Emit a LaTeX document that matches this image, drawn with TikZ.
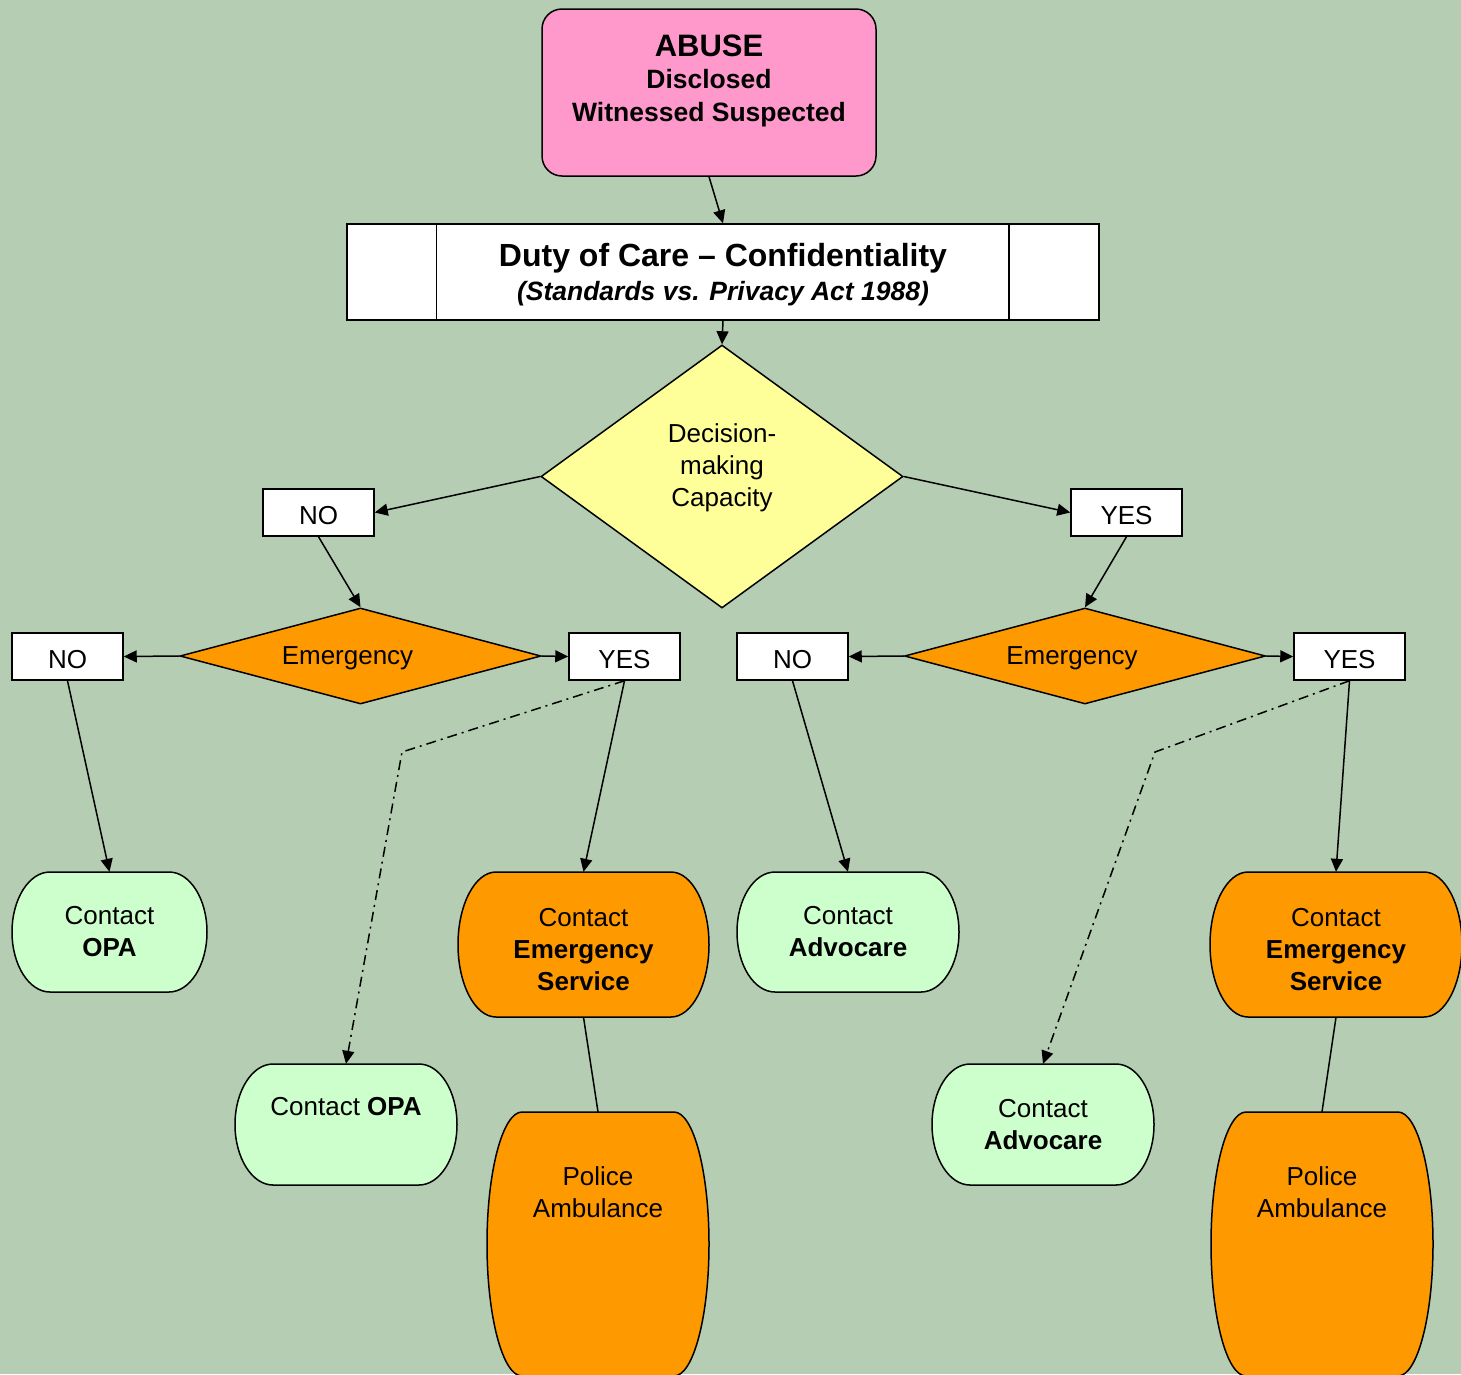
\documentclass[tikz,border=0pt]{standalone}
\usepackage{fontspec}
\setmainfont{Liberation Sans}
\usetikzlibrary{shapes.geometric,arrows.meta}

\definecolor{bggreen}{RGB}{181,205,178}
\definecolor{abusepink}{RGB}{255,153,204}
\definecolor{decyellow}{RGB}{255,255,153}
\definecolor{emorange}{RGB}{255,153,0}
\definecolor{contactgreen}{RGB}{204,255,204}

% terminal shape with curved sides: [side] left, top, right, bottom, fill
\newcommand{\termshape}[6][38]{%
  \pgfmathsetmacro{\tmid}{(#3+#5)/2}
  \pgfmathsetmacro{\tkap}{(#5-#3)*0.276}
  \filldraw[line width=1.5pt, fill=#6] (#2+#1,#3) -- (#4-#1,#3)
    .. controls (#4-0.45*#1,#3) and (#4,\tmid-\tkap) .. (#4,\tmid)
    .. controls (#4,\tmid+\tkap) and (#4-0.45*#1,#5) .. (#4-#1,#5)
    -- (#2+#1,#5)
    .. controls (#2+0.45*#1,#5) and (#2,\tmid+\tkap) .. (#2,\tmid)
    .. controls (#2,\tmid-\tkap) and (#2+0.45*#1,#3) .. cycle;
}

\tikzset{
  arr/.style={line width=1.5pt, -{Triangle[length=13pt,width=12pt]}},
  dotarr/.style={arr, dash pattern=on 10pt off 5pt on 2pt off 5pt},
  answer/.style={draw, fill=white, line width=1.5pt, inner sep=0pt, text height=24pt,
    minimum width=111pt, minimum height=47pt},
  emdiamond/.style={diamond, draw, fill=emorange, line width=1.5pt,
    shape aspect=3.76, inner sep=0pt, minimum width=361pt, minimum height=96pt,
    label={[xshift=-13pt, yshift=-2pt]center:Emergency}},
  term/.style={align=center, inner sep=0pt},
}

\begin{document}
\begin{tikzpicture}[x=1pt, y=-1pt, font=\fontsize{26}{32}\selectfont]
  % canvas
  \useasboundingbox (0,0) rectangle (1461,1374);
  \fill[bggreen] (0,0) rectangle (1461,1374);
  \clip (0,0) rectangle (1461,1374);

  % top of the chart
  \node[draw, fill=abusepink, rounded corners=20pt, line width=1.5pt,
    minimum width=334pt, minimum height=167pt,
    label={[align=center, yshift=12pt, font=\bfseries\fontsize{26.5}{32.5}\selectfont]center:{{\fontsize{31}{35}\selectfont ABUSE}\\Disclosed\\Witnessed Suspected}}]
    (abuse) at (709,92.5) {};
  \node[draw, fill=white, line width=1.5pt, minimum width=752pt, minimum height=96pt,
    label={[align=center, yshift=-3pt, font=\bfseries\fontsize{26.5}{34}\selectfont]center:{{\fontsize{32}{34}\selectfont Duty of Care – Confidentiality}\\\itshape (Standards vs. Privacy Act 1988)}}]
    (duty) at (723,272) {};
  \draw[line width=1.5pt] ([xshift=90pt]duty.north west) -- ([xshift=90pt]duty.south west);
  \draw[line width=1.5pt] ([xshift=-91pt]duty.north east) -- ([xshift=-91pt]duty.south east);
  \node[diamond, draw, fill=decyellow, line width=1.5pt, shape aspect=1.38, inner sep=0pt,
    minimum width=362pt, minimum height=263pt,
    label={[align=center, yshift=9pt]center:{Decision-\\making\\Capacity}}]
    (dec) at (722,476.5) {};

  % first answers
  \node[answer] (no1) at (318.5,512.5) {NO};
  \node[answer] (yes1) at (1126.5,512.5) {YES};

  % emergency decisions
  \node[emdiamond] (em1) at (360.5,656) {};
  \node[emdiamond] (em2) at (1085,656) {};
  \node[answer] (no2) at (67.5,656.5) {NO};
  \node[answer] (yes2) at (624.5,656.5) {YES};
  \node[answer] (no3) at (792.5,656.5) {NO};
  \node[answer] (yes3) at (1349.5,656.5) {YES};

  % contact shapes
  \termshape{12}{872}{207}{992}{contactgreen}
  \termshape{458}{872}{709}{1017}{emorange}
  \termshape{737}{872}{959}{992}{contactgreen}
  \termshape{1210}{872}{1462}{1017}{emorange}
  \termshape{235}{1064}{457}{1185}{contactgreen}
  \termshape{932}{1064}{1154}{1185}{contactgreen}
  \termshape[35]{487}{1112}{709}{1376}{emorange}
  \termshape[35]{1211}{1112}{1433}{1376}{emorange}

  \node[term, minimum width=195pt, minimum height=120pt] (opa1) at (109.5,932) {Contact\\\textbf{OPA}};
  \node[term, minimum width=251pt, minimum height=145pt,
    label={[align=center, yshift=-5pt]center:{Contact\\\textbf{Emergency}\\\textbf{Service}}}] (ess1) at (583.5,944.5) {};
  \node[term, minimum width=222pt, minimum height=120pt] (adv1) at (848,932) {Contact\\\textbf{Advocare}};
  \node[term, minimum width=252pt, minimum height=145pt,
    label={[align=center, yshift=-5pt]center:{Contact\\\textbf{Emergency}\\\textbf{Service}}}] (ess2) at (1336,944.5) {};
  \node[term, minimum width=222pt, minimum height=121pt,
    label={[yshift=17.5pt]center:Contact \textbf{OPA}}] (opa2) at (346,1124.5) {};
  \node[term, minimum width=222pt, minimum height=121pt] (adv2) at (1043,1124.5) {Contact\\\textbf{Advocare}};
  \node[term, minimum width=222pt, minimum height=264pt,
    label={[align=center, yshift=52pt]center:{Police\\Ambulance}}] (pol1) at (598,1244) {};
  \node[term, minimum width=222pt, minimum height=264pt,
    label={[align=center, yshift=52pt]center:{Police\\Ambulance}}] (pol2) at (1322,1244) {};

  % bends of the dotted links
  \coordinate (bend1) at (402,752);
  \coordinate (bend2) at (1155,752);

  % connectors
  \draw[arr] (abuse.south) -- (duty.north);
  \draw[arr] (duty.south) -- (dec.north);
  \draw[arr] (dec.west) -- (no1.east);
  \draw[arr] (dec.east) -- (yes1.west);
  \draw[arr] (no1.south) -- (em1.north);
  \draw[arr] (yes1.south) -- (em2.north);
  \draw[arr] (em1.west) -- (no2.east);
  \draw[arr] (em1.east) -- (yes2.west);
  \draw[arr] (em2.west) -- (no3.east);
  \draw[arr] (em2.east) -- (yes3.west);
  \draw[arr] (no2.south) -- (opa1.north);
  \draw[arr] (yes2.south) -- (ess1.north);
  \draw[arr] (no3.south) -- (adv1.north);
  \draw[arr] (yes3.south) -- (ess2.north);
  \draw[dotarr] (yes2.south) -- (bend1) -- (opa2.north);
  \draw[dotarr] (yes3.south) -- (bend2) -- (adv2.north);
  \draw[line width=1.5pt] (ess1.south) -- (pol1.north);
  \draw[line width=1.5pt] (ess2.south) -- (pol2.north);
\end{tikzpicture}
\end{document}
